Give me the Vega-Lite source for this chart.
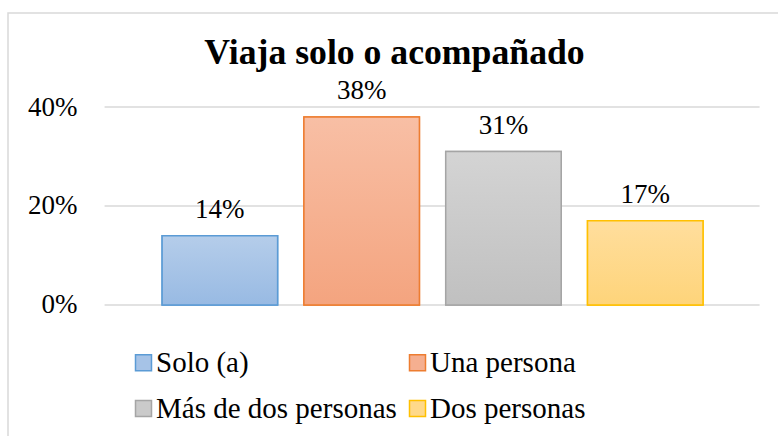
{
  "$schema": "https://vega.github.io/schema/vega-lite/v6.json",
  "width": 773,
  "height": 426,
  "autosize": {"type": "none"},
  "padding": {"left": 8, "top": 13, "right": -3, "bottom": -3},
  "background": "white",
  "config": {
    "view": {"stroke": "#D9D9D9", "strokeWidth": 1.5},
    "font": "Liberation Serif"
  },
  "title": {
    "text": "Viaja solo o acompañado",
    "font": "Liberation Serif",
    "fontSize": 35.7,
    "fontWeight": "bold",
    "color": "#000000",
    "anchor": "middle",
    "frame": "group",
    "baseline": "alphabetic",
    "offset": -87,
    "dx": 0
  },
  "datasets": {
    "viaje": [
      {"grupo": "Solo (a)", "pct": 0.14},
      {"grupo": "Una persona", "pct": 0.38},
      {"grupo": "Más de dos personas", "pct": 0.31},
      {"grupo": "Dos personas", "pct": 0.17}
    ],
    "rejilla": [
      {"v": 0, "desde": "Solo (a)", "hasta": "Dos personas"},
      {"v": 0.2, "desde": "Solo (a)", "hasta": "Dos personas"},
      {"v": 0.4, "desde": "Solo (a)", "hasta": "Dos personas"}
    ]
  },
  "layer": [
    {
      "data": {"name": "rejilla"},
      "mark": {"type": "rule", "color": "#D9D9D9", "strokeWidth": 1.5},
      "encoding": {
        "y": {"field": "v", "type": "quantitative", "scale": {"domain": [-0.27071, 0.5899], "nice": false, "zero": false}, "axis": {"values": [0, 0.2, 0.4], "format": ".0%", "grid": false, "domain": false, "ticks": false, "offset": -96, "labelPadding": 27, "labelFont": "Liberation Serif", "labelFontSize": 27, "labelColor": "#000000", "title": null}},
        "x": {"field": "desde", "type": "nominal", "bandPosition": -0.498, "scale": {"domain": ["Solo (a)", "Una persona", "Más de dos personas", "Dos personas"], "paddingInner": 0.1855, "paddingOuter": 0.8184, "align": 0.664}, "axis": null},
        "x2": {"field": "hasta", "bandPosition": 1.49}
      }
    },
    {
      "data": {"name": "viaje"},
      "mark": {"type": "bar", "strokeWidth": 1.5},
      "encoding": {
        "x": {"field": "grupo", "type": "nominal", "axis": null},
        "y": {"field": "pct", "type": "quantitative"},
        "fill": {"field": "grupo", "type": "nominal", "scale": {"domain": ["Solo (a)", "Una persona", "Más de dos personas", "Dos personas"], "range": ["#A6C3E7", "#F5AF90", "#CACACA", "#FFD98A"]}, "legend": {"orient": "none", "direction": "horizontal", "legendX": 121, "legendY": 335, "columns": 2, "title": null, "symbolType": "square", "symbolSize": 256, "symbolStrokeWidth": 1.5, "labelFont": "Liberation Serif", "labelFontSize": 29, "labelColor": "#000000", "labelOffset": -2, "rowPadding": 16, "columnPadding": 6, "padding": 0, "labelLimit": 400}},
        "stroke": {"field": "grupo", "type": "nominal", "scale": {"domain": ["Solo (a)", "Una persona", "Más de dos personas", "Dos personas"], "range": ["#5B9BD5", "#ED7D31", "#A5A5A5", "#FFC000"]}, "legend": {"orient": "none", "direction": "horizontal", "legendX": 121, "legendY": 335, "columns": 2, "title": null, "symbolType": "square", "symbolSize": 256, "symbolStrokeWidth": 1.5, "labelFont": "Liberation Serif", "labelFontSize": 29, "labelColor": "#000000", "labelOffset": -2, "rowPadding": 16, "columnPadding": 6, "padding": 0, "labelLimit": 400}}
      }
    },
    {
      "data": {"name": "viaje"},
      "transform": [{"filter": "datum.grupo === 'Solo (a)'"}],
      "mark": {"type": "bar", "stroke": "#5B9BD5", "strokeWidth": 1.5, "fill": {"gradient": "linear", "x1": 0, "y1": 0, "x2": 0, "y2": 1, "stops": [{"offset": 0, "color": "#B5CDEA"}, {"offset": 1, "color": "#98BAE3"}]}},
      "encoding": {
        "x": {"field": "grupo", "type": "nominal"},
        "y": {"field": "pct", "type": "quantitative"}
      }
    },
    {
      "data": {"name": "viaje"},
      "transform": [{"filter": "datum.grupo === 'Una persona'"}],
      "mark": {"type": "bar", "stroke": "#ED7D31", "strokeWidth": 1.5, "fill": {"gradient": "linear", "x1": 0, "y1": 0, "x2": 0, "y2": 1, "stops": [{"offset": 0, "color": "#F8BFA5"}, {"offset": 1, "color": "#F4A47F"}]}},
      "encoding": {
        "x": {"field": "grupo", "type": "nominal"},
        "y": {"field": "pct", "type": "quantitative"}
      }
    },
    {
      "data": {"name": "viaje"},
      "transform": [{"filter": "datum.grupo === 'Más de dos personas'"}],
      "mark": {"type": "bar", "stroke": "#A5A5A5", "strokeWidth": 1.5, "fill": {"gradient": "linear", "x1": 0, "y1": 0, "x2": 0, "y2": 1, "stops": [{"offset": 0, "color": "#D4D4D4"}, {"offset": 1, "color": "#C0C0C0"}]}},
      "encoding": {
        "x": {"field": "grupo", "type": "nominal"},
        "y": {"field": "pct", "type": "quantitative"}
      }
    },
    {
      "data": {"name": "viaje"},
      "transform": [{"filter": "datum.grupo === 'Dos personas'"}],
      "mark": {"type": "bar", "stroke": "#FFC000", "strokeWidth": 1.5, "fill": {"gradient": "linear", "x1": 0, "y1": 0, "x2": 0, "y2": 1, "stops": [{"offset": 0, "color": "#FFDE9D"}, {"offset": 1, "color": "#FED47A"}]}},
      "encoding": {
        "x": {"field": "grupo", "type": "nominal"},
        "y": {"field": "pct", "type": "quantitative"}
      }
    },
    {
      "data": {"name": "viaje"},
      "mark": {"type": "text", "baseline": "alphabetic", "dy": -18, "font": "Liberation Serif", "fontSize": 27, "color": "#000000"},
      "encoding": {
        "x": {"field": "grupo", "type": "nominal"},
        "y": {"field": "pct", "type": "quantitative"},
        "text": {"field": "pct", "type": "quantitative", "format": ".0%"}
      }
    }
  ]
}
